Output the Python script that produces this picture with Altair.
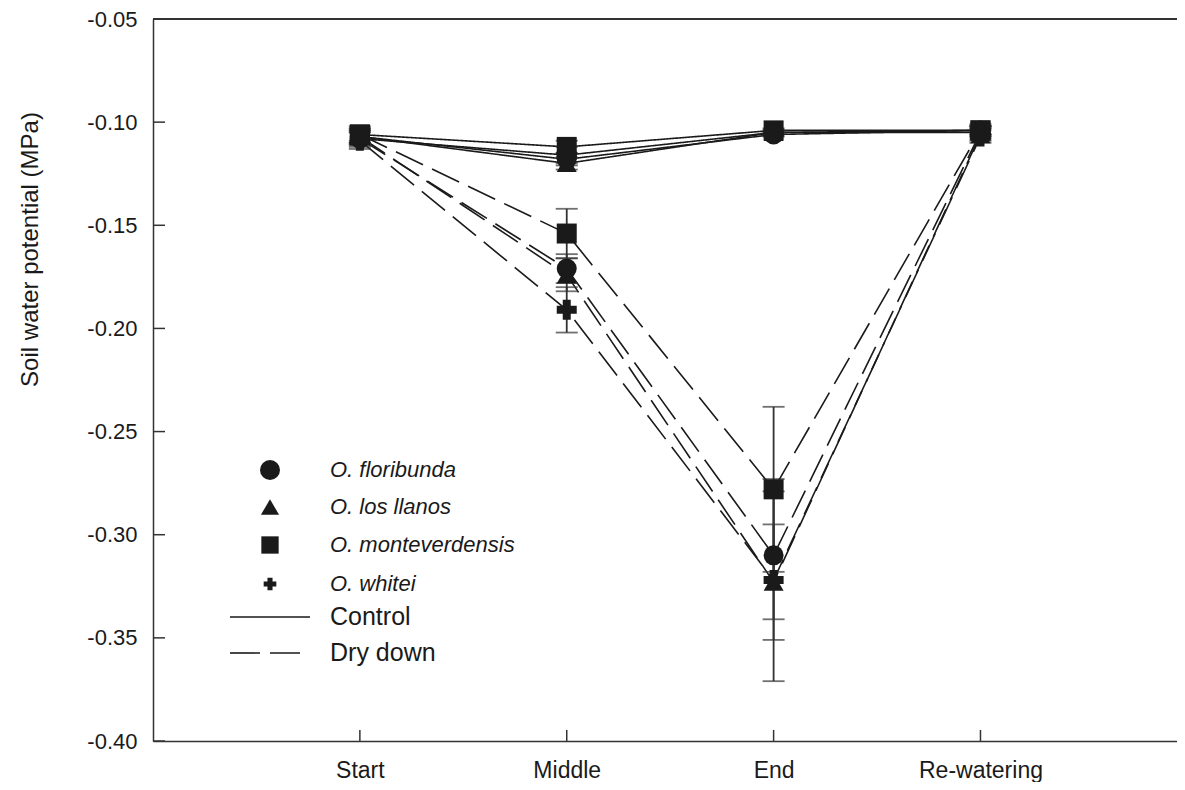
import altair as alt
import pandas as pd

# ---------------- data ----------------
stages = ["Start", "Middle", "End", "Re-watering"]
species = ["O. floribunda", "O. los llanos", "O. monteverdensis", "O. whitei"]
shapes = ["circle", "triangle-up", "square", "cross"]
treatments = ["Control", "Dry down"]

# Control means / errors per species (Start, Middle, End, Re-watering)
ctrl_floribunda = [-0.107, -0.118, -0.106, -0.104]
ctrl_losllanos = [-0.107, -0.120, -0.105, -0.104]
ctrl_monteverdensis = [-0.106, -0.112, -0.104, -0.104]
ctrl_whitei = [-0.108, -0.116, -0.105, -0.105]
ctrl_err_floribunda = [0.003, 0.003, 0.001, 0.002]
ctrl_err_losllanos = [0.003, 0.003, 0.001, 0.002]
ctrl_err_monteverdensis = [0.003, 0.003, 0.001, 0.002]
ctrl_err_whitei = [0.003, 0.004, 0.001, 0.002]

# Dry-down means / errors
dry_floribunda = [-0.108, -0.171, -0.310, -0.105]
dry_losllanos = [-0.107, -0.174, -0.323, -0.106]
dry_monteverdensis = [-0.106, -0.154, -0.278, -0.104]
dry_whitei = [-0.109, -0.191, -0.322, -0.107]
dry_err_floribunda = [0.004, 0.007, 0.031, 0.003]
dry_err_losllanos = [0.004, 0.008, 0.028, 0.003]
dry_err_monteverdensis = [0.004, 0.012, 0.040, 0.003]
dry_err_whitei = [0.004, 0.011, 0.049, 0.003]

y_ticks = [-0.40, -0.35, -0.30, -0.25, -0.20, -0.15, -0.10, -0.05]

means = {
    ("Control", species[0]): (ctrl_floribunda, ctrl_err_floribunda),
    ("Control", species[1]): (ctrl_losllanos, ctrl_err_losllanos),
    ("Control", species[2]): (ctrl_monteverdensis, ctrl_err_monteverdensis),
    ("Control", species[3]): (ctrl_whitei, ctrl_err_whitei),
    ("Dry down", species[0]): (dry_floribunda, dry_err_floribunda),
    ("Dry down", species[1]): (dry_losllanos, dry_err_losllanos),
    ("Dry down", species[2]): (dry_monteverdensis, dry_err_monteverdensis),
    ("Dry down", species[3]): (dry_whitei, dry_err_whitei),
}

rows = []
for (trt, sp), (vals, errs) in means.items():
    for i, (v, e) in enumerate(zip(vals, errs)):
        rows.append({"pos": i + 1, "stage": stages[i], "species": sp,
                     "treatment": trt, "series": trt + " " + sp,
                     "mean": v, "lo": v - e, "hi": v + e})
df = pd.DataFrame(rows)
caps = pd.concat([df.assign(cap=df["lo"]), df.assign(cap=df["hi"])])

# ---------------- layout ----------------
W, H = 1024, 722
INK = "#1a1a1a"
AX = "#333333"
FONT = "Liberation Sans"

xscale = alt.Scale(domain=[0, 4.95], nice=False, zero=False)
yscale = alt.Scale(domain=[-0.40, -0.05], nice=False, zero=False)

label_expr = "[''," + ",".join("'%s'" % s for s in stages) + "][datum.value]"

xenc = alt.X("pos:Q", scale=xscale,
             axis=alt.Axis(values=[1, 2, 3, 4], labelExpr=label_expr, title=None,
                           labelFontSize=23, labelPadding=29, labelBaseline="middle"))
yenc = alt.Y("mean:Q", scale=yscale,
             axis=alt.Axis(values=y_ticks, title="Soil water potential (MPa)",
                           labelExpr="replace(format(datum.value, '.2f'), '\u2212', '-')",
                           labelFontSize=22, labelPadding=16,
                           titleFontSize=24, titleX=-123, titleY=230,
                           titleAlign="center", titleBaseline="middle", titleAngle=270))

xplain = alt.X("pos:Q", scale=xscale, title=None)
dash = alt.StrokeDash("treatment:N",
                      scale=alt.Scale(domain=treatments, range=[[1, 0], [30, 10]]),
                      legend=None)

lines = alt.Chart(df).mark_line(color=INK, strokeWidth=1.6).encode(
    x=xenc, y=yenc, detail="series:N", strokeDash=dash)

err = alt.Chart(df).mark_rule(color=AX, strokeWidth=1.8).encode(
    x=xplain, y=alt.Y("lo:Q", scale=yscale), y2="hi:Q")

capm = alt.Chart(caps).mark_tick(color=AX, orient="horizontal", size=22,
                                 thickness=1.8).encode(
    x=xplain, y=alt.Y("cap:Q", scale=yscale))

shape_enc = alt.Shape("species:N", scale=alt.Scale(domain=species, range=shapes),
                      legend=None)
size_enc = alt.Size("species:N", scale=alt.Scale(domain=species,
                                                 range=[400, 400, 330, 180]),
                    legend=None)

points = alt.Chart(df).mark_point(filled=True, color=INK, opacity=1).encode(
    x=xplain, y=alt.Y("mean:Q", scale=yscale),
    shape=shape_enc, size=size_enc)

# inward ticks
ytick_df = pd.DataFrame({"mean": y_ticks})
yticks = alt.Chart(ytick_df).mark_rule(color=AX, strokeWidth=1.5).encode(
    y=alt.Y("mean:Q", scale=yscale), x=alt.value(0), x2=alt.value(12))
xtick_df = pd.DataFrame({"pos": [1, 2, 3, 4]})
xticks = alt.Chart(xtick_df).mark_rule(color=AX, strokeWidth=1.5).encode(
    x=xplain, y=alt.value(H), y2=alt.value(H - 11))

top_line = alt.Chart(xtick_df).mark_rule(color=AX, strokeWidth=1.5).encode(
    x=alt.value(0), x2=alt.value(W), y=alt.value(0))

# ---------------- legend ----------------
leg_layers = []
leg_sym_x = 117
leg_txt_x = 177
leg_rows_y = [451, 488, 526, 565]
for sp, shp, ly, sz in zip(species, shapes, leg_rows_y, [400, 330, 300, 160]):
    d = pd.DataFrame({"label": [sp]})
    leg_layers.append(alt.Chart(d).mark_point(filled=True, color=INK, opacity=1,
                                              shape=shp, size=sz).encode(
        x=alt.value(leg_sym_x), y=alt.value(ly)))
    leg_layers.append(alt.Chart(d).mark_text(align="left", baseline="middle",
                                             font=FONT, fontSize=22, fontStyle="italic",
                                             color=INK).encode(
        x=alt.value(leg_txt_x), y=alt.value(ly), text="label:N"))

for trt, ly, dsh in zip(treatments, [598, 634], [[1, 0], [30, 10]]):
    d = pd.DataFrame({"label": [trt]})
    leg_layers.append(alt.Chart(d).mark_rule(color=INK, strokeWidth=1.6,
                                             strokeDash=dsh).encode(
        x=alt.value(77), x2=alt.value(157), y=alt.value(ly)))
    leg_layers.append(alt.Chart(d).mark_text(align="left", baseline="middle",
                                             font=FONT, fontSize=25,
                                             color=INK).encode(
        x=alt.value(leg_txt_x), y=alt.value(ly), text="label:N"))

chart = alt.layer(lines, err, capm, points, yticks, xticks, top_line,
                  *leg_layers).properties(
    width=W, height=H,
    padding={"left": 145, "top": 11, "right": 0, "bottom": 41},
    autosize=alt.AutoSizeParams(type="none"),
    background="white",
).configure_view(stroke=None).configure_axis(
    grid=False, ticks=False, domainColor=AX, domainWidth=1.5,
    labelFont=FONT, labelColor=INK, titleFont=FONT, titleColor=INK,
    titleFontWeight="normal",
)

chart.save("out.html", embed_options={"renderer": "svg", "actions": False})
